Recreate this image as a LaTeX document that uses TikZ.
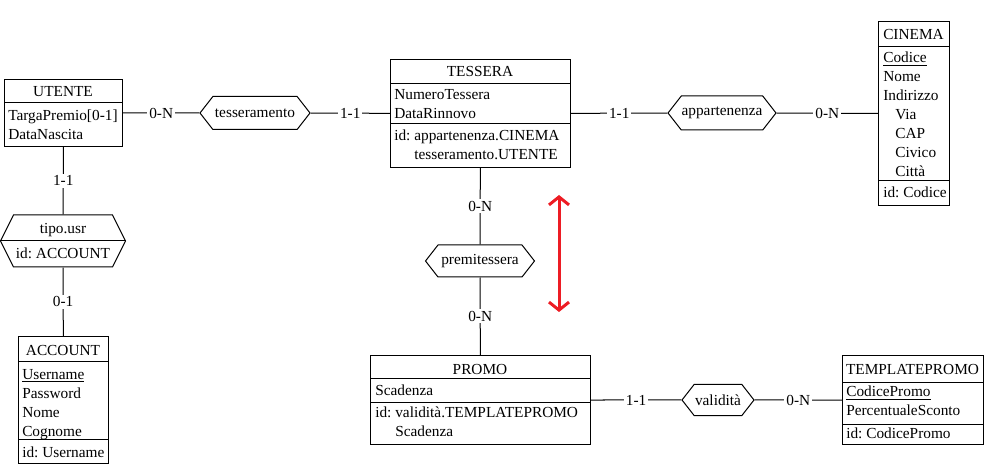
\documentclass[tikz,border=0pt]{standalone}
\usepackage{fontspec}
\setmainfont{Liberation Serif}
\usepackage{tikz}
\usetikzlibrary{arrows.meta,shapes.symbols}
\definecolor{arrred}{RGB}{237,28,36}
\newcommand{\px}{0.75pt}
\frenchspacing

\begin{document}
\begin{tikzpicture}[
  x=0.75pt, y=-0.75pt,
  font=\fontsize{11.5}{14}\selectfont,
  ent/.style={draw, line width=0.75pt, inner sep=0, anchor=north west},
  rel/.style={draw, line width=0.75pt, signal, signal to=west and east,
    signal pointer angle=104, inner sep=0},
  ttl/.style={anchor=base, inner sep=0},
  attr/.style={anchor=base west, inner sep=0},
  card/.style={fill=white, inner sep=1.5pt},
  conn/.style={line width=0.75pt},
  divline/.style={line width=0.75pt}
]
\useasboundingbox (0,0) rectangle (1000,470);

% entities
\node[ent, minimum width=118*\px, minimum height=67*\px] (utente) at (4,79) {};
\node[ttl] (utenteT) at (63,97) {UTENTE};
\draw[divline] (utente.west |- 0,103) -- (utente.east |- 0,103);
\node[attr] (targa) at (8,121) {TargaPremio[0-1]};
\node[attr] (nascita) at (8,140) {DataNascita};

\node[ent, minimum width=180*\px, minimum height=108*\px] (tessera) at (390,59) {};
\node[ttl] (tesseraT) at (480,77) {TESSERA};
\draw[divline] (tessera.west |- 0,84) -- (tessera.east |- 0,84);
\node[attr] (numero) at (394,100) {NumeroTessera};
\node[attr] (rinnovo) at (394,119) {DataRinnovo};
\draw[divline] (tessera.west |- 0,124) -- (tessera.east |- 0,124);
\node[attr] (tesseraId) at (394,141) {id: appartenenza.CINEMA};
\node[attr] (tesseraId2) at (394,160) {\phantom{id: }tesseramento.UTENTE};

\node[ent, minimum width=71*\px, minimum height=184*\px] (cinema) at (878,21) {};
\node[ttl] (cinemaT) at (913.5,40) {CINEMA};
\draw[divline] (cinema.west |- 0,47) -- (cinema.east |- 0,47);
\node[attr] (codice) at (883,63) {\underline{Codice}};
\node[attr] (nomeC) at (883,82) {Nome};
\node[attr] (indirizzo) at (883,101) {Indirizzo};
\node[attr] (via) at (895,120) {Via};
\node[attr] (cap) at (895,139) {CAP};
\node[attr] (civico) at (895,158) {Civico};
\node[attr] (citta) at (895,177) {Città};
\draw[divline] (cinema.west |- 0,181) -- (cinema.east |- 0,181);
\node[attr] (cinemaId) at (883,198) {id: Codice};

\node[ent, minimum width=90*\px, minimum height=127*\px] (account) at (18,336) {};
\node[ttl] (accountT) at (63,356) {ACCOUNT};
\draw[divline] (account.west |- 0,362) -- (account.east |- 0,362);
\node[attr] (username) at (22,379) {\underline{Username}};
\node[attr] (password) at (22,398) {Password};
\node[attr] (nomeA) at (22,417) {Nome};
\node[attr] (cognome) at (22,436) {Cognome};
\draw[divline] (account.west |- 0,439) -- (account.east |- 0,439);
\node[attr] (accountId) at (22,457) {id: Username};

\node[ent, minimum width=220*\px, minimum height=89*\px] (promo) at (370,355) {};
\node[ttl] (promoT) at (480,375) {PROMO};
\draw[divline] (promo.west |- 0,379) -- (promo.east |- 0,379);
\node[attr] (scadenza) at (375,396) {Scadenza};
\draw[divline] (promo.west |- 0,402) -- (promo.east |- 0,402);
\node[attr] (promoId) at (375,417) {id: validità.TEMPLATEPROMO};
\node[attr] (promoId2) at (375,436) {\phantom{id: }Scadenza};

\node[ent, minimum width=141*\px, minimum height=89*\px] (template) at (842,355) {};
\node[ttl] (templateT) at (912.5,375) {TEMPLATEPROMO};
\draw[divline] (template.west |- 0,383) -- (template.east |- 0,383);
\node[attr] (codicePromo) at (846,397) {\underline{CodicePromo}};
\node[attr] (sconto) at (846,416) {PercentualeSconto};
\draw[divline] (template.west |- 0,424) -- (template.east |- 0,424);
\node[attr] (templateId) at (846,438) {id: CodicePromo};

% relationships
\node[rel, minimum width=110*\px, minimum height=33*\px] (tesseramento) at (255,113) {tesseramento};
\node[rel, minimum width=108*\px, minimum height=34*\px] (appartenenza) at (722,113) {appartenenza};
\node[rel, minimum width=109*\px, minimum height=32*\px] (premitessera) at (480,261) {premitessera};
\node[rel, minimum width=72*\px, minimum height=31*\px] (validita) at (718,400) {validità};
\node[rel, signal pointer angle=127, minimum width=125*\px, minimum height=52*\px] (tipo) at (63,241) {};
\draw[divline] (tipo.west) -- (tipo.east);
\node[ttl] (tipoT) at (63,234) {tipo.usr};
\node[ttl] (tipoId) at (63,259) {id: ACCOUNT};

\draw[conn] (utente) -- node[card]{0-N} (tesseramento);
\draw[conn] (tesseramento) -- node[card]{1-1} (tessera);
\draw[conn] (tessera) -- node[card]{1-1} (appartenenza);
\draw[conn] (appartenenza) -- node[card]{0-N} (cinema);
\draw[conn] (utente) -- node[card]{1-1} (tipo);
\draw[conn] (tipo) -- node[card]{0-1} (account);
\draw[conn] (tessera) -- node[card]{0-N} (premitessera);
\draw[conn] (premitessera) -- node[card]{0-N} (promo);
\draw[conn] (promo) -- node[card]{1-1} (validita);
\draw[conn] (validita) -- node[card]{0-N} (template);

\coordinate (arrTop) at (559,195);
\coordinate (arrBot) at (559,312);
\draw[arrred, line width=2.25pt, {Straight Barb[length=6pt,width=15pt]}-{Straight Barb[length=6pt,width=15pt]}] (arrTop) -- (arrBot);

\end{tikzpicture}
\end{document}
